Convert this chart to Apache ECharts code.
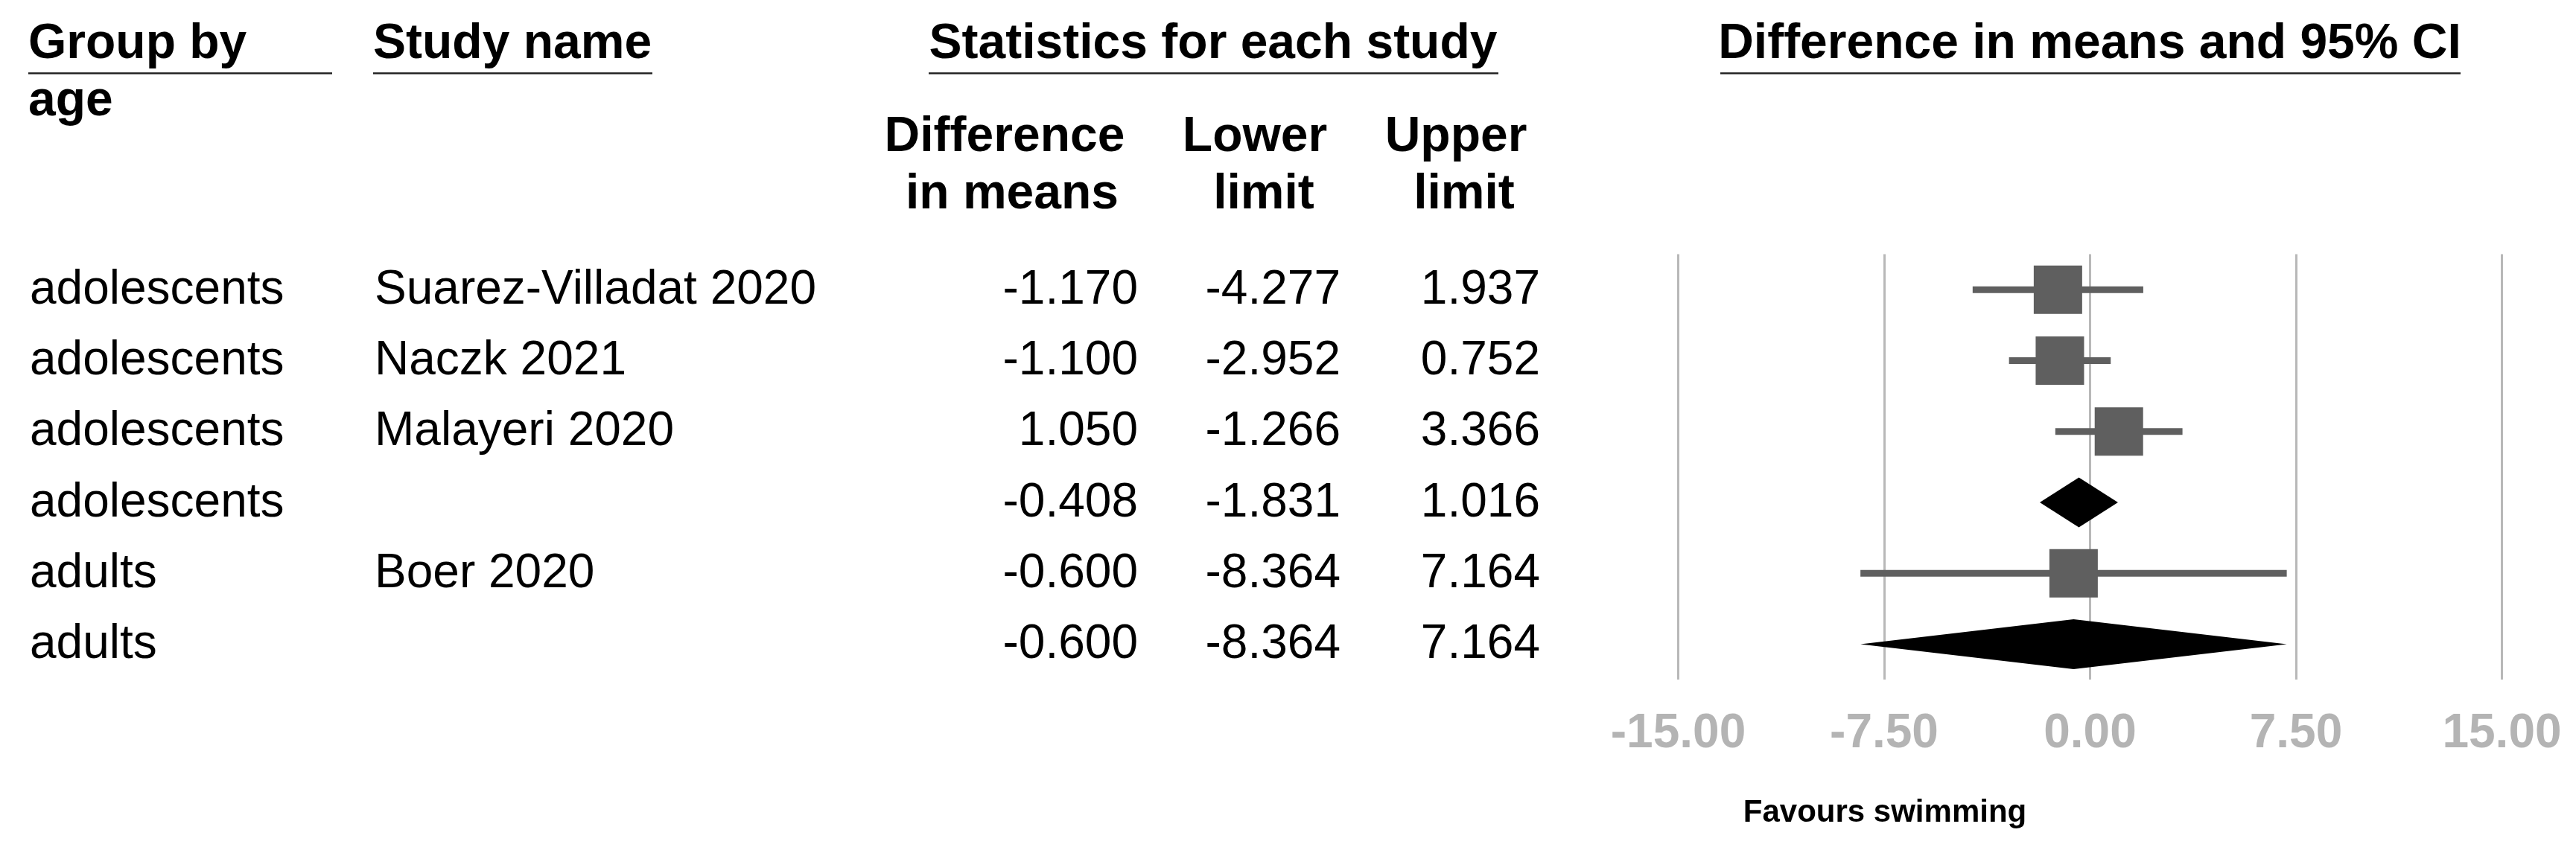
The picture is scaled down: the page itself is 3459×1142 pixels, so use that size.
<!DOCTYPE html>
<html><head><meta charset="utf-8">
<script src="https://cdn.jsdelivr.net/npm/echarts@6/dist/echarts.min.js"></script>
<style>html,body{margin:0;padding:0;background:#fff}#c{width:3459px;height:1142px}</style>
</head><body><div id="c"></div>
<script>
// ---- data ----
const groups  = ['adolescents','adolescents','adolescents','adolescents','adults','adults'];
const studies = ['Suarez-Villadat 2020','Naczk 2021','Malayeri 2020','','Boer 2020',''];
const diffs   = [-1.170,-1.100,1.050,-0.408,-0.600,-0.600];
const lowers  = [-4.277,-2.952,-1.266,-1.831,-8.364,-8.364];
const uppers  = [1.937,0.752,3.366,1.016,7.164,7.164];
const summary = [false,false,false,true,false,true];
const rowIds  = ['r0','r1','r2','r3','r4','r5'];
const xTickMin = -15, xTickMax = 15, xTickStep = 7.5;

const FONT = '"Liberation Sans", Arial, sans-serif';
const chart = echarts.init(document.getElementById('c'), null, {renderer:'canvas'});

const studyRows = [], summaryRows = [], tableRows = [];
for (let i = 0; i < diffs.length; i++) {
  const rec = [diffs[i], i, lowers[i], uppers[i]];
  (summary[i] ? summaryRows : studyRows).push(rec);
  tableRows.push([0, i]);
}

// column positions (layout only)
const cols = [
  {x: 40,   align: 'left',  get: i => groups[i]},
  {x: 503,  align: 'left',  get: i => studies[i]},
  {x: 1528, align: 'right', get: i => diffs[i].toFixed(3)},
  {x: 1800, align: 'right', get: i => lowers[i].toFixed(3)},
  {x: 2068, align: 'right', get: i => uppers[i].toFixed(3)}
];

const GT = 341.5, GH = 571.5;

function hdr(text, x, y, align) {
  return {type:'text', style:{text, x, y, align: align||'left', verticalAlign:'middle',
    font: 'bold 66px ' + FONT, fill:'#000'}};
}
function uline(x1, x2) {
  return {type:'line', shape:{x1, y1:98.5, x2, y2:98.5}, style:{stroke:'#222', lineWidth:2.5}};
}

chart.setOption({
  animation: false,
  grid: [
    {left: 2253.5, top: GT, width: 1106, height: GH},
    {left: 0, top: GT, width: 3459, height: GH}
  ],
  xAxis: [
    {gridIndex:0, type:'value', min:xTickMin, max:xTickMax, interval:xTickStep,
     axisLine:{show:false}, axisTick:{show:false},
     splitLine:{show:true, lineStyle:{color:'#b8b8b8', width:3}},
     axisLabel:{formatter: v => v.toFixed(2), color:'#b4b4b4', fontSize:64, fontWeight:'bold',
       fontFamily: FONT, margin:73, verticalAlign:'middle'}},
    {gridIndex:1, type:'value', min:0, max:3459, show:false}
  ],
  yAxis: [
    {gridIndex:0, type:'category', data: rowIds, inverse:true, show:false},
    {gridIndex:1, type:'category', data: rowIds, inverse:true, show:false}
  ],
  series: [
    { // study CI lines + squares
      type:'custom', xAxisIndex:0, yAxisIndex:0, data: studyRows, clip:false,
      renderItem: function(params, api) {
        const c = api.coord([api.value(0), api.value(1)]);
        const lo = api.coord([api.value(2), api.value(1)]);
        const hi = api.coord([api.value(3), api.value(1)]);
        const s = 65, lw = 9;
        return {type:'group', children:[
          {type:'rect', shape:{x:lo[0], y:c[1]-lw/2, width:hi[0]-lo[0], height:lw}, style:{fill:'#5f5f5f'}},
          {type:'rect', shape:{x:c[0]-s/2, y:c[1]-s/2, width:s, height:s}, style:{fill:'#5f5f5f'}}
        ]};
      }
    },
    { // summary diamonds
      type:'custom', xAxisIndex:0, yAxisIndex:0, data: summaryRows, clip:false,
      renderItem: function(params, api) {
        const c = api.coord([api.value(0), api.value(1)]);
        const lo = api.coord([api.value(2), api.value(1)]);
        const hi = api.coord([api.value(3), api.value(1)]);
        const h = 67;
        return {type:'polygon', shape:{points:[[lo[0],c[1]],[c[0],c[1]-h/2],[hi[0],c[1]],[c[0],c[1]+h/2]]},
          style:{fill:'#000'}};
      }
    },
    { // table text
      type:'custom', xAxisIndex:1, yAxisIndex:1, data: tableRows, clip:false,
      renderItem: function(params, api) {
        const i = api.value(1);
        const children = cols.map(col => {
          const p = api.coord([col.x, i]);
          return {type:'text', style:{text: col.get(i), x:p[0], y:p[1]+1, align: col.align,
            verticalAlign:'middle', font:'64px ' + FONT, fill:'#000'}};
        });
        return {type:'group', children};
      }
    }
  ],
  graphic: [
    hdr('Group by', 38, 60), hdr('age', 38, 137),
    hdr('Study name', 501, 60),
    hdr('Statistics for each study', 1629, 60, 'center'),
    hdr('Difference in means and 95% CI', 2806, 60, 'center'),
    hdr('Difference', 1349, 185, 'center'), hdr('in means', 1359, 262, 'center'),
    hdr('Lower', 1685, 185, 'center'), hdr('limit', 1697, 262, 'center'),
    hdr('Upper', 1955, 185, 'center'), hdr('limit', 1966, 262, 'center'),
    uline(38, 446), uline(501, 876), uline(1247, 2012), uline(2310, 3304),
    {type:'text', style:{text:'Favours swimming', x:2531, y:1092, align:'center', verticalAlign:'middle',
      font:'bold 42px ' + FONT, fill:'#000'}}
  ]
});
</script></body></html>
